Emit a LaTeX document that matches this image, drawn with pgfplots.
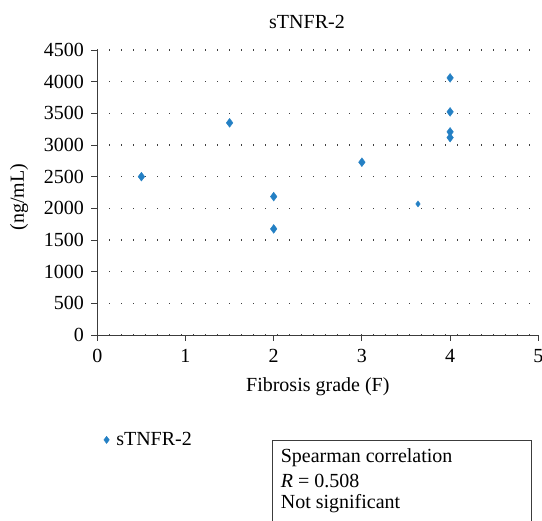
\documentclass[border=0pt]{standalone}
\usepackage{fontspec}
\setmainfont{Liberation Serif}
\usepackage{pgfplots}
\pgfplotsset{compat=1.18}
\definecolor{ptblue}{RGB}{36,128,196}
\definecolor{axgray}{RGB}{60,60,60}
\begin{document}
\begin{tikzpicture}[x=1pt,y=1pt,font=\rmfamily\fontsize{20}{24}\selectfont]
\begin{axis}[
    at={(0,0)}, anchor=south west,
    scale only axis,
    width=441pt, height=285pt,
    xmin=0, xmax=5, ymin=0, ymax=4500,
    xtick={0,1,2,3,4,5},
    ytick={0,500,...,4500},
    axis lines*=left,
    axis line style={axgray, line width=0.8pt},
    tick style={axgray, line width=0.8pt},
    tick align=outside,
    major tick length=6pt,
    ticklabel style={font=\rmfamily\fontsize{20}{24}\selectfont},
    yticklabel style={xshift=-4pt},
    xticklabel style={yshift=-5pt},
    ymajorgrids,
    grid style={black!75, line width=1.1pt, dash pattern=on 0.9pt off 11.1pt},
    /pgf/number format/assume math mode=true,
    /pgf/number format/1000 sep={},
    title={sTNFR-2},
    every axis title shift=0pt,
    title style={at={(axis description cs:0.4755,1.10)}, anchor=center},
    xlabel={Fibrosis grade (F)},
    xlabel style={at={(axis description cs:0.5,-0.1825)}, anchor=center},
    ylabel={(ng/mL)},
    ylabel style={at={(axis description cs:-0.1776,0.484)}, anchor=center},
    legend style={at={(axis description cs:0.0145,-0.368)}, anchor=west,
        draw=none, fill=none, inner sep=0pt, column sep=5pt},
    legend image code/.code={\draw[#1, mark size=3.6pt] plot coordinates {(0pt,0pt)};},
    clip=false,
]
\addplot[only marks, mark=diamond*, mark size=4.4pt, color=ptblue] coordinates {
    (0.5,2500)
    (1.5,3350)
    (2,2185)
    (2,1675)
    (3,2728)
    (4,4060)
    (4,3523)
    (4,3207)
    (4,3117)
};
\addlegendentry{sTNFR-2}
\addplot[only marks, mark=diamond*, mark size=3pt, color=ptblue, forget plot] coordinates {
    (3.636,2069)
};
\end{axis}
% statistics box (bottom edge falls outside the picture)
\draw[axgray, line width=0.8pt] (174.7,-190) -- (174.7,-105) -- (433.7,-105) -- (433.7,-190);
\node[anchor=west] at (180,-123) {Spearman correlation};
\node[anchor=west] at (180,-146) {\textit{R} = 0.508};
\node[anchor=west] at (180,-169) {Not significant};
\pgfresetboundingbox
\useasboundingbox (-97.3,-186) rectangle (444.7,335);
\end{tikzpicture}
\end{document}
